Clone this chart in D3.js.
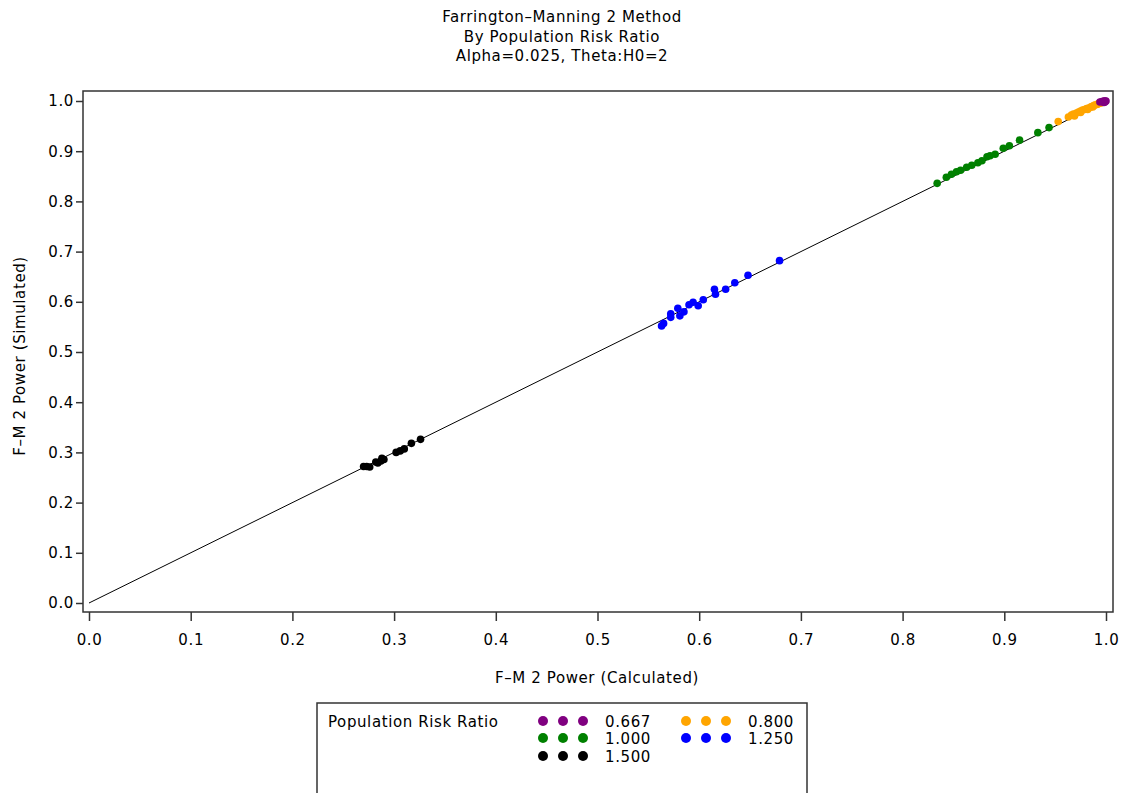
<!DOCTYPE html>
<html>
<head>
<meta charset="utf-8">
<script src="https://cdn.jsdelivr.net/npm/d3@7"></script>
<style>
  html, body { margin: 0; padding: 0; background: #fff; }
  svg { display: block; }
  text { font-family: "DejaVu Sans", sans-serif; fill: #000; font-size: 15px; letter-spacing: 0.6px; }
</style>
</head>
<body>
<svg id="chart" width="1124" height="793"></svg>
<script>
// Power: calculated (x) vs simulated (y), by population risk ratio
const titleLines = ["Farrington\u2013Manning 2 Method", "By Population Risk Ratio", "Alpha=0.025, Theta:H0=2"];
const xLabel = "F\u2013M 2 Power (Calculated)";
const yLabel = "F\u2013M 2 Power (Simulated)";
const legendTitle = "Population Risk Ratio";
const groups = ["0.667", "0.800", "1.000", "1.250", "1.500"];
const groupColors = ["#800080", "#FFA500", "#008000", "#0000FF", "#000000"];
const xTicks = [0, 0.1, 0.2, 0.3, 0.4, 0.5, 0.6, 0.7, 0.8, 0.9, 1.0];
const yTicks = [0, 0.1, 0.2, 0.3, 0.4, 0.5, 0.6, 0.7, 0.8, 0.9, 1.0];

const calc0667 = [0.994, 0.996, 0.997, 0.998, 0.999, 1.000, 0.999, 0.998];
const sim0667  = [0.998, 0.999, 0.999, 1.000, 1.000, 1.000, 0.998, 0.997];

const calc0800 = [0.953, 0.963, 0.966, 0.968, 0.971, 0.973, 0.975, 0.977, 0.979, 0.981, 0.983, 0.985, 0.986, 0.988, 0.989, 0.991, 0.992, 0.993, 0.995, 0.996, 0.997, 0.969, 0.975, 0.982, 0.987];
const sim0800  = [0.959, 0.968, 0.972, 0.974, 0.976, 0.978, 0.980, 0.982, 0.983, 0.985, 0.986, 0.988, 0.989, 0.991, 0.992, 0.993, 0.994, 0.995, 0.996, 0.997, 0.998, 0.970, 0.977, 0.983, 0.988];

const calc1000 = [0.834, 0.843, 0.848, 0.853, 0.863, 0.868, 0.874, 0.883, 0.886, 0.891, 0.899, 0.905, 0.915, 0.933, 0.944, 0.857, 0.878];
const sim1000  = [0.836, 0.848, 0.854, 0.859, 0.868, 0.872, 0.877, 0.889, 0.891, 0.894, 0.906, 0.911, 0.922, 0.937, 0.947, 0.862, 0.881];

const calc1250 = [0.563, 0.565, 0.572, 0.572, 0.579, 0.581, 0.585, 0.590, 0.594, 0.599, 0.604, 0.615, 0.616, 0.626, 0.635, 0.648, 0.679];
const sim1250  = [0.552, 0.557, 0.569, 0.576, 0.587, 0.572, 0.580, 0.594, 0.599, 0.592, 0.604, 0.625, 0.615, 0.625, 0.638, 0.653, 0.682];

const calc1500 = [0.270, 0.273, 0.276, 0.282, 0.284, 0.287, 0.288, 0.290, 0.302, 0.306, 0.310, 0.317, 0.326];
const sim1500  = [0.272, 0.272, 0.271, 0.281, 0.279, 0.283, 0.288, 0.286, 0.300, 0.303, 0.307, 0.318, 0.326];

const seriesCalc = [calc0667, calc0800, calc1000, calc1250, calc1500];
const seriesSim  = [sim0667, sim0800, sim1000, sim1250, sim1500];

const svg = d3.select("#chart");
const frame = { left: 83, right: 1113, top: 91, bottom: 612 };

const x = d3.scaleLinear().domain([0, 1]).range([89, 1106]);
const y = d3.scaleLinear().domain([0, 1]).range([603, 101]);

// Titles
svg.append("g").selectAll("text").data(titleLines).join("text")
  .attr("x", 562).attr("y", (d, i) => 22 + i * 19.5)
  .attr("text-anchor", "middle")
  .text(d => d);

// Frame
svg.append("rect")
  .attr("x", frame.left).attr("y", frame.top)
  .attr("width", frame.right - frame.left).attr("height", frame.bottom - frame.top)
  .attr("fill", "none").attr("stroke", "#333").attr("stroke-width", 1.5);

// Axes
const fmt = d3.format(".1f");
const xAxis = svg.append("g").attr("transform", `translate(0,${frame.bottom})`)
  .call(d3.axisBottom(x).tickValues(xTicks).tickFormat(fmt).tickSize(9).tickSizeOuter(0));
const yAxis = svg.append("g").attr("transform", `translate(${frame.left},0)`)
  .call(d3.axisLeft(y).tickValues(yTicks).tickFormat(fmt).tickSize(7).tickSizeOuter(0));
[xAxis, yAxis].forEach(g => {
  g.select(".domain").remove();
  g.selectAll(".tick line").attr("stroke", "#333").attr("stroke-width", 1.5);
  g.selectAll(".tick text")
    .style("font-size", "15px").style("font-family", "DejaVu Sans, sans-serif")
    .style("letter-spacing", "0.6px").attr("fill", "#000");
});
xAxis.selectAll(".tick text").attr("dy", "1.4em");
yAxis.selectAll(".tick text").attr("x", -9);

// Axis labels
svg.append("text").attr("x", 597).attr("y", 683)
  .attr("text-anchor", "middle").text(xLabel);
svg.append("text")
  .attr("transform", `translate(25,356) rotate(-90)`)
  .attr("text-anchor", "middle").text(yLabel);

// Identity line
svg.append("line")
  .attr("x1", x(0)).attr("y1", y(0)).attr("x2", x(1)).attr("y2", y(1))
  .attr("stroke", "#000").attr("stroke-width", 1);

// Points, drawn from the last group to the first so the smaller ratios sit on top
const pts = svg.append("g");
for (let k = groups.length - 1; k >= 0; k--) {
  const data = seriesCalc[k].map((c, i) => [c, seriesSim[k][i]]);
  pts.append("g").selectAll("circle").data(data).join("circle")
    .attr("cx", d => x(d[0])).attr("cy", d => y(d[1]))
    .attr("r", 3.8).attr("fill", groupColors[k]);
}

// Legend
const lg = svg.append("g");
lg.append("rect").attr("x", 317).attr("y", 703).attr("width", 490).attr("height", 110)
  .attr("fill", "none").attr("stroke", "#333").attr("stroke-width", 1.5);
lg.append("text").attr("x", 328).attr("y", 727).text(legendTitle);
const legendPos = [[543, 721], [686, 721], [543, 738], [686, 738], [543, 756]];
groups.forEach((g, k) => {
  const [lx, ly] = legendPos[k];
  [0, 20, 40].forEach(dx => {
    lg.append("circle").attr("cx", lx + dx).attr("cy", ly).attr("r", 5).attr("fill", groupColors[k]);
  });
  lg.append("text").attr("x", lx + 62).attr("y", ly + 6).text(g);
});
</script>
</body>
</html>
